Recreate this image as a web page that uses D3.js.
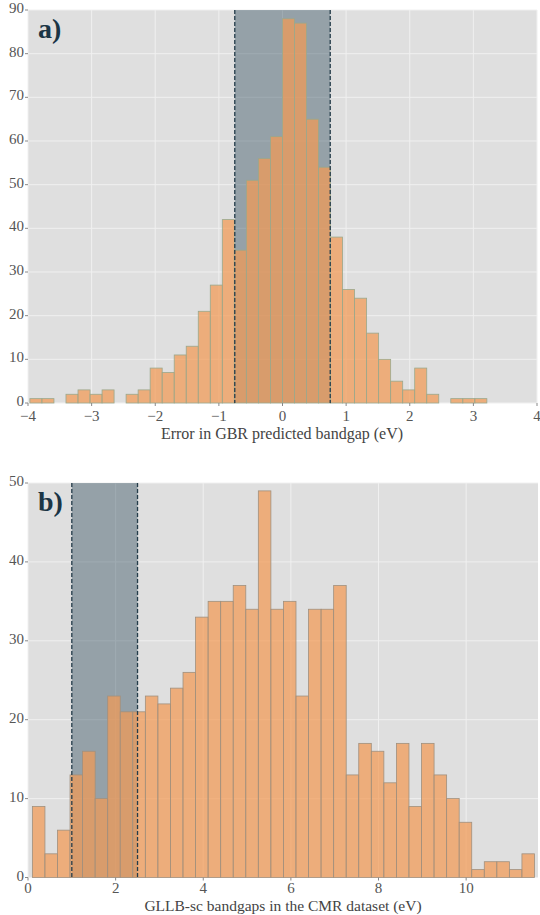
<!DOCTYPE html>
<html>
<head>
<meta charset="utf-8">
<script src="https://cdn.jsdelivr.net/npm/d3@7"></script>
<style>
  body { margin: 0; background: #fff; }
</style>
</head>
<body>
<div id="chart"></div>
<script>
// panel a: error of the GBR model
var errBinStart = -3.97;
var errBinWidth = 0.189;
var errCounts = [1, 1, 0, 2, 3, 2, 3, 0, 2, 3, 8, 7, 11, 13, 21, 27, 42, 35, 51, 56,
                 61, 88, 87, 65, 54, 38, 26, 24, 16, 10, 5, 3, 8, 2, 0, 1, 1, 1];
var errShade = [-0.75, 0.75];
var errTicksX = [-4, -3, -2, -1, 0, 1, 2, 3, 4];
var errTicksY = [0, 10, 20, 30, 40, 50, 60, 70, 80, 90];

// panel b: GLLB-sc bandgaps
var gapBinStart = 0.1;
var gapBinWidth = 0.2865;
var gapCounts = [9, 3, 6, 13, 16, 10, 23, 21, 21, 23, 22, 24, 26, 33, 35, 35, 37, 34, 49, 34,
                 35, 23, 34, 34, 37, 13, 17, 16, 12, 17, 9, 17, 13, 10, 7, 1, 2, 2, 1, 3];
var gapShade = [1.0, 2.5];
var gapTicksX = [0, 2, 4, 6, 8, 10];
var gapTicksY = [0, 10, 20, 30, 40, 50];

var SERIF = "'Liberation Serif', 'Times New Roman', Times, 'DejaVu Serif', serif";

var svg = d3.select("#chart")
    .append("svg")
    .attr("width", 540)
    .attr("height", 915)
    .attr("font-family", SERIF);

function fmt(v) {
    return v < 0 ? "\u2212" + Math.abs(v) : String(v);
}

function drawHist(cfg) {
    var x = d3.scaleLinear().domain(cfg.xDomain).range([cfg.left, cfg.right]);
    var y = d3.scaleLinear().domain(cfg.yDomain).range([cfg.bottom, cfg.top]);
    var g = svg.append("g");

    // background
    g.append("rect")
        .attr("x", cfg.left).attr("y", cfg.top)
        .attr("width", cfg.right - cfg.left)
        .attr("height", cfg.bottom - cfg.top)
        .attr("fill", "#dfdfdf");

    // grid
    g.selectAll(".gx").data(cfg.ticksX).enter().append("line")
        .attr("x1", d => x(d)).attr("x2", d => x(d))
        .attr("y1", cfg.top).attr("y2", cfg.bottom)
        .attr("stroke", "#f0f0f0").attr("stroke-width", 1);
    g.selectAll(".gy").data(cfg.ticksY).enter().append("line")
        .attr("x1", cfg.left).attr("x2", cfg.right)
        .attr("y1", d => y(d)).attr("y2", d => y(d))
        .attr("stroke", "#f0f0f0").attr("stroke-width", 1);

    // shaded band
    g.append("rect")
        .attr("x", x(cfg.shade[0])).attr("y", cfg.top)
        .attr("width", x(cfg.shade[1]) - x(cfg.shade[0]))
        .attr("height", cfg.bottom - cfg.top)
        .attr("fill", "#2c4a5a").attr("fill-opacity", 0.41);

    // bars
    var bins = cfg.counts.map(function (c, i) {
        return { x0: cfg.binStart + i * cfg.binWidth, x1: cfg.binStart + (i + 1) * cfg.binWidth, n: c };
    }).filter(d => d.n > 0);

    g.selectAll(".bar").data(bins).enter().append("rect")
        .attr("x", d => x(d.x0))
        .attr("y", d => y(d.n))
        .attr("width", d => x(d.x1) - x(d.x0))
        .attr("height", d => y(0) - y(d.n))
        .attr("fill", "#f29a55").attr("fill-opacity", 0.72)
        .attr("stroke", cfg.edge).attr("stroke-width", 0.8);

    // dashed lines
    g.selectAll(".dash").data(cfg.shade).enter().append("line")
        .attr("x1", d => x(d)).attr("x2", d => x(d))
        .attr("y1", cfg.top).attr("y2", cfg.bottom)
        .attr("stroke", "#243c4a").attr("stroke-width", 1.3)
        .attr("stroke-dasharray", "4,2");

    // x axis ticks + labels
    g.selectAll(".tx").data(cfg.ticksX).enter().append("line")
        .attr("x1", d => x(d)).attr("x2", d => x(d))
        .attr("y1", cfg.bottom).attr("y2", cfg.bottom + 3)
        .attr("stroke", "#888");
    g.selectAll(".lx").data(cfg.ticksX).enter().append("text")
        .attr("x", d => x(d))
        .attr("y", cfg.bottom + cfg.tickDy)
        .attr("text-anchor", "middle")
        .style("font-family", SERIF)
        .style("font-size", "15px")
        .attr("fill", "#555")
        .text(d => fmt(d));

    // y axis ticks + labels
    g.selectAll(".ty").data(cfg.ticksY).enter().append("line")
        .attr("x1", cfg.left - 3).attr("x2", cfg.left)
        .attr("y1", d => y(d)).attr("y2", d => y(d))
        .attr("stroke", "#888");
    g.selectAll(".ly").data(cfg.ticksY).enter().append("text")
        .attr("x", cfg.left - 4)
        .attr("y", d => y(d) + 3)
        .attr("text-anchor", "end")
        .style("font-family", SERIF)
        .style("font-size", "15px")
        .attr("fill", "#555")
        .text(d => d);

    // axis title
    g.append("text")
        .attr("x", cfg.titleX)
        .attr("y", cfg.bottom + cfg.titleDy)
        .attr("text-anchor", "middle")
        .style("font-family", SERIF)
        .style("font-size", cfg.titleSize)
        .attr("fill", "#444")
        .text(cfg.title);

    // panel letter
    g.append("text")
        .attr("x", cfg.left + 10)
        .attr("y", cfg.top + 28)
        .style("font-family", SERIF)
        .style("font-size", "28px")
        .style("font-weight", "bold")
        .attr("fill", "#1b3545")
        .text(cfg.letter);
}

drawHist({
    left: 28, right: 537, top: 10, bottom: 403,
    xDomain: [-4, 4], yDomain: [0, 90],
    binStart: errBinStart, binWidth: errBinWidth, counts: errCounts,
    shade: errShade, ticksX: errTicksX, ticksY: errTicksY,
    edge: "#9aa88c", tickDy: 18,
    title: "Error in GBR predicted bandgap (eV)", titleX: 282, titleDy: 36, titleSize: "16px",
    letter: "a)"
});

drawHist({
    left: 28, right: 538, top: 483, bottom: 877.5,
    xDomain: [0, 11.64], yDomain: [0, 50],
    binStart: gapBinStart, binWidth: gapBinWidth, counts: gapCounts,
    shade: gapShade, ticksX: gapTicksX, ticksY: gapTicksY,
    edge: "#a0907e", tickDy: 15,
    title: "GLLB-sc bandgaps in the CMR dataset (eV)", titleX: 283, titleDy: 33.5, titleSize: "15.5px",
    letter: "b)"
});
</script>
</body>
</html>
